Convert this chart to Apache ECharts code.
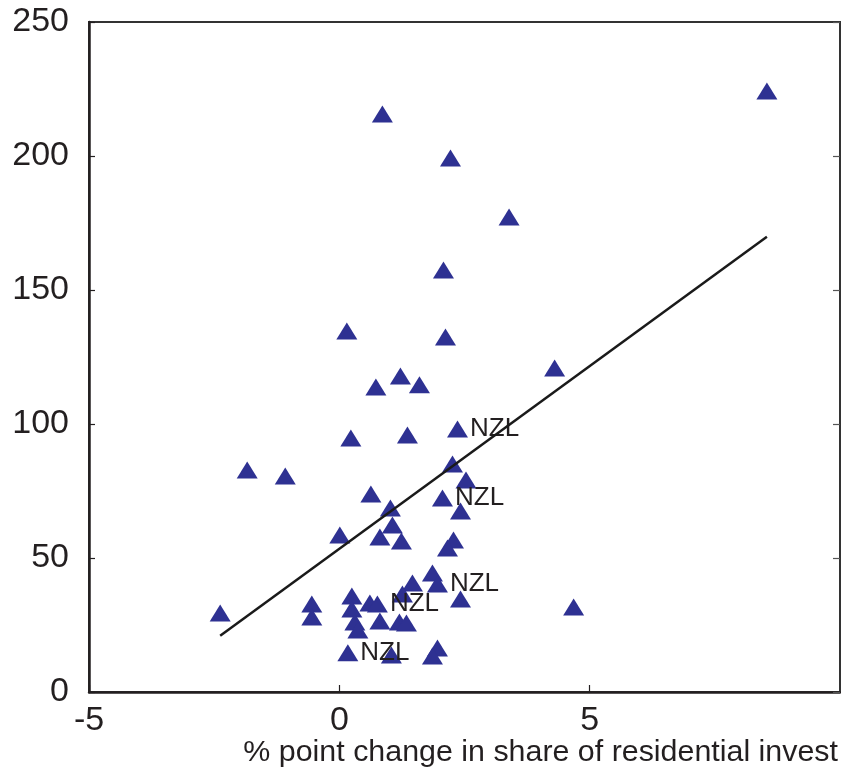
<!DOCTYPE html>
<html>
<head>
<meta charset="utf-8">
<style>
  html, body { margin: 0; padding: 0; background: #fff; }
  #chart { width: 841px; height: 773px; }
</style>
<script src="https://cdn.jsdelivr.net/npm/echarts@6/dist/echarts.min.js"></script>
</head>
<body>
<div id="chart"></div>
<script>
// Change in share of residential investment (x) vs. house-price change (y)
const xValues = [
  8.54, 0.86, 2.22, 3.39, 2.08, 2.12, 0.15, 4.30, 1.22, 0.73,
  1.60, 2.36, 0.23, 1.36, -1.84, -1.08, 2.26, 2.53, 0.63, 2.06,
  1.02, 2.42, 0.01, 0.81, 1.06, 1.24, 2.28, 2.16, 1.86, 1.46,
  1.96, 2.42, 4.68, -2.38, -0.55, -0.55, 0.25, 0.25, 0.31, 0.37,
  0.61, 0.76, 0.81, 1.20, 1.34, 1.26, 0.17, 1.04, 1.96, 1.86
];
const yValues = [
  224.3, 215.7, 199.3, 177.2, 157.5, 132.5, 134.7, 120.9, 117.9, 113.8,
  114.6, 98.1, 94.8, 95.9, 82.8, 80.6, 85.1, 79.1, 73.9, 72.4,
  68.7, 67.5, 58.6, 57.8, 62.3, 56.3, 56.7, 53.7, 44.4, 40.7,
  40.3, 34.7, 31.7, 29.5, 32.8, 28.0, 35.8, 31.0, 26.1, 23.1,
  33.2, 32.8, 26.5, 26.1, 25.7, 36.6, 14.6, 13.8, 16.4, 13.4
];
const pointLabels = [
  '', '', '', '', '', '', '', '', '', '',
  '', 'NZL', '', '', '', '', '', '', '', 'NZL',
  '', '', '', '', '', '', '', '', '', '',
  'NZL', '', '', '', '', '', '', '', '', '',
  '', 'NZL', '', '', '', '', 'NZL', '', '', ''
];
// Fitted trend line, from the smallest to the largest x
const fitLine = [[-2.38, 21.0], [8.54, 169.9]];

const xTicks = { min: -5, max: 10, interval: 5 };
const yTicks = { min: 0, max: 250, interval: 50 };
const xAxisTitle = '% point change in share of residential invest';

const textColor = '#231f20';
const markerColor = '#2e3192';
const fontFamily = '"Liberation Sans", Arial, Helvetica, sans-serif';

const scatterData = xValues.map((x, i) => {
  const item = { value: [x, yValues[i]] };
  if (pointLabels[i]) {
    item.label = { show: true, formatter: pointLabels[i] };
  }
  return item;
});

const chart = echarts.init(document.getElementById('chart'), null, { renderer: 'canvas' });

chart.setOption({
  animation: false,
  backgroundColor: '#ffffff',
  grid: {
    left: 89, right: 1, top: 22, bottom: 81,
    show: true, borderColor: '#333333', borderWidth: 2,
    outerBoundsMode: 'none'
  },
  xAxis: {
    type: 'value',
    min: xTicks.min, max: xTicks.max, interval: xTicks.interval,
    axisLine: { show: true, onZero: false, lineStyle: { color: '#231f20', width: 2.5 } },
    axisTick: { show: true, inside: true, length: 7, lineStyle: { color: '#231f20', width: 1.2 } },
    axisLabel: {
      color: textColor, fontSize: 34, fontFamily: fontFamily, margin: 12,
      showMaxLabel: false
    },
    splitLine: { show: false }
  },
  yAxis: [
    {
      type: 'value',
      min: yTicks.min, max: yTicks.max, interval: yTicks.interval,
      axisLine: { show: true, onZero: false, lineStyle: { color: '#231f20', width: 2.5 } },
      axisTick: { show: true, inside: true, length: 6, lineStyle: { color: '#231f20', width: 1.2 } },
      axisLabel: { color: textColor, fontSize: 34, fontFamily: fontFamily, margin: 20 },
      splitLine: { show: false }
    },
    {
      type: 'value', position: 'right',
      min: yTicks.min, max: yTicks.max, interval: yTicks.interval,
      axisLine: { show: false, onZero: false },
      axisTick: { show: true, inside: true, length: 7, lineStyle: { color: '#555555', width: 1.2 } },
      axisLabel: { show: false },
      splitLine: { show: false }
    }
  ],
  graphic: [
    {
      type: 'text',
      right: 3,
      top: 738,
      style: {
        text: xAxisTitle,
        fill: textColor,
        font: '30.4px ' + fontFamily
      }
    }
  ],
  series: [
    {
      type: 'scatter',
      symbol: 'triangle',
      symbolSize: [21, 17],
      itemStyle: { color: markerColor, opacity: 1 },
      label: {
        show: false,
        position: 'right',
        distance: 2,
        color: textColor,
        fontSize: 26,
        fontFamily: fontFamily
      },
      emphasis: { disabled: true },
      data: scatterData,
      z: 2
    },
    {
      type: 'line',
      data: fitLine,
      symbol: 'none',
      lineStyle: { color: '#1a1a1a', width: 2.5 },
      emphasis: { disabled: true },
      z: 3
    }
  ]
});
</script>
</body>
</html>
